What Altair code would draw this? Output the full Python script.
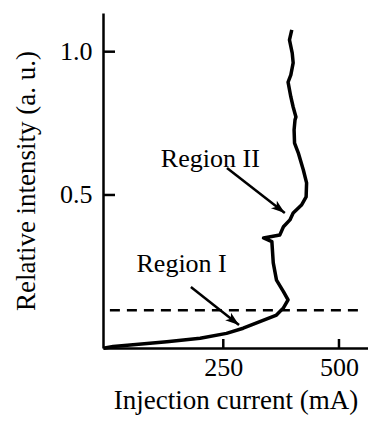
import altair as alt
import pandas as pd

# Curve (injection current in mA, relative intensity a.u.)
current_ma = [-9, 12, 55, 128, 200, 257, 293, 329, 365, 380, 390, 380, 365, 358, 355, 337, 372, 380,
              394, 401, 419, 429, 430, 423, 412, 404, 403, 405, 407, 401, 396, 390, 396, 401, 399, 393, 398]
intensity = [-0.035, -0.029, -0.023, -0.012, 0.0, 0.017, 0.035, 0.058, 0.081, 0.106, 0.134, 0.163,
             0.203, 0.263, 0.337, 0.350, 0.360, 0.389, 0.413, 0.437, 0.465, 0.493, 0.542, 0.587,
             0.647, 0.681, 0.727, 0.762, 0.772, 0.807, 0.842, 0.894, 0.919, 0.961, 0.995, 1.041, 1.076]

# Threshold (dashed) line
threshold_y = 0.098
threshold_x = [5, 555]

# Tick values
x_ticks = [250, 500]
y_ticks = [0.5, 1.0]

# Annotations
labels = ["Region II", "Region I"]
label_x = [222, 160]
label_y = [0.598, 0.231]
arrow_x0 = [258, 180]
arrow_y0 = [0.594, 0.179]
arrow_x1 = [383, 284]
arrow_y1 = [0.437, 0.046]
arrow_angle = [128, 128]

X_DOM = [-9.9, 562.7]
Y_DOM = [-0.034, 1.135]
W, H = 265, 335
FONT = "Liberation Serif"

xs = alt.Scale(domain=X_DOM, nice=False, zero=False)
ys = alt.Scale(domain=Y_DOM, nice=False, zero=False)

axis_style = dict(ticks=False, grid=False, domainWidth=2.5, domainColor="black",
                  labelFont=FONT, titleFont=FONT, labelFontSize=26, titleFontSize=27,
                  labelColor="black", titleColor="black", titleFontWeight="normal")

curve_df = pd.DataFrame({"x": current_ma, "y": intensity, "i": range(len(current_ma))})
curve = alt.Chart(curve_df).mark_line(color="black", strokeWidth=3.5, strokeJoin="round").encode(
    x=alt.X("x:Q", scale=xs, title="Injection current (mA)",
            axis=alt.Axis(values=x_ticks, labelPadding=6, titlePadding=7, **axis_style)),
    y=alt.Y("y:Q", scale=ys, title="Relative intensity (a. u.)",
            axis=alt.Axis(values=y_ticks, format=".1f", labelPadding=11, titlePadding=19,
                          **axis_style)),
    order="i:Q",
)

dash_df = pd.DataFrame({"x": [threshold_x[0]], "x2": [threshold_x[1]], "y": [threshold_y]})
dash = alt.Chart(dash_df).mark_rule(color="black", strokeWidth=2.5, strokeDash=[10, 7]).encode(
    x=alt.X("x:Q", scale=xs), x2="x2:Q", y=alt.Y("y:Q", scale=ys))

xt_df = pd.DataFrame({"x": x_ticks})
xticks = alt.Chart(xt_df).mark_rule(color="black", strokeWidth=2.5).encode(
    x=alt.X("x:Q", scale=xs), y=alt.value(H), y2=alt.value(H - 9))
yt_df = pd.DataFrame({"y": y_ticks})
yticks = alt.Chart(yt_df).mark_rule(color="black", strokeWidth=2.5).encode(
    y=alt.Y("y:Q", scale=ys), x=alt.value(0), x2=alt.value(12))

ann_df = pd.DataFrame({"t": labels, "x": label_x, "y": label_y,
                       "x0": arrow_x0, "y0": arrow_y0, "x1": arrow_x1, "y1": arrow_y1,
                       "a": arrow_angle})
texts = alt.Chart(ann_df).mark_text(font=FONT, fontSize=26, color="black",
                                    align="center", baseline="alphabetic").encode(
    x=alt.X("x:Q", scale=xs), y=alt.Y("y:Q", scale=ys), text="t:N")
shafts = alt.Chart(ann_df).mark_rule(color="black", strokeWidth=2.5).encode(
    x=alt.X("x0:Q", scale=xs), y=alt.Y("y0:Q", scale=ys), x2="x1:Q", y2="y1:Q")
heads = alt.Chart(ann_df).mark_point(shape="M0,0 L0.55,1.6 L0,1.2 L-0.55,1.6 Z", filled=True,
                                     color="black", opacity=1, size=300).encode(
    x=alt.X("x1:Q", scale=xs), y=alt.Y("y1:Q", scale=ys), angle=alt.Angle("a:Q", scale=None))

chart = alt.layer(dash, curve, xticks, yticks, shafts, heads, texts).properties(
    width=W, height=H,
    autosize=alt.AutoSizeParams(type="none"),
    padding={"left": 103, "top": 13, "right": 0, "bottom": 73},
    background="white",
).configure_view(stroke=None)

chart.save("out.html", embed_options={"renderer": "svg", "actions": False})
